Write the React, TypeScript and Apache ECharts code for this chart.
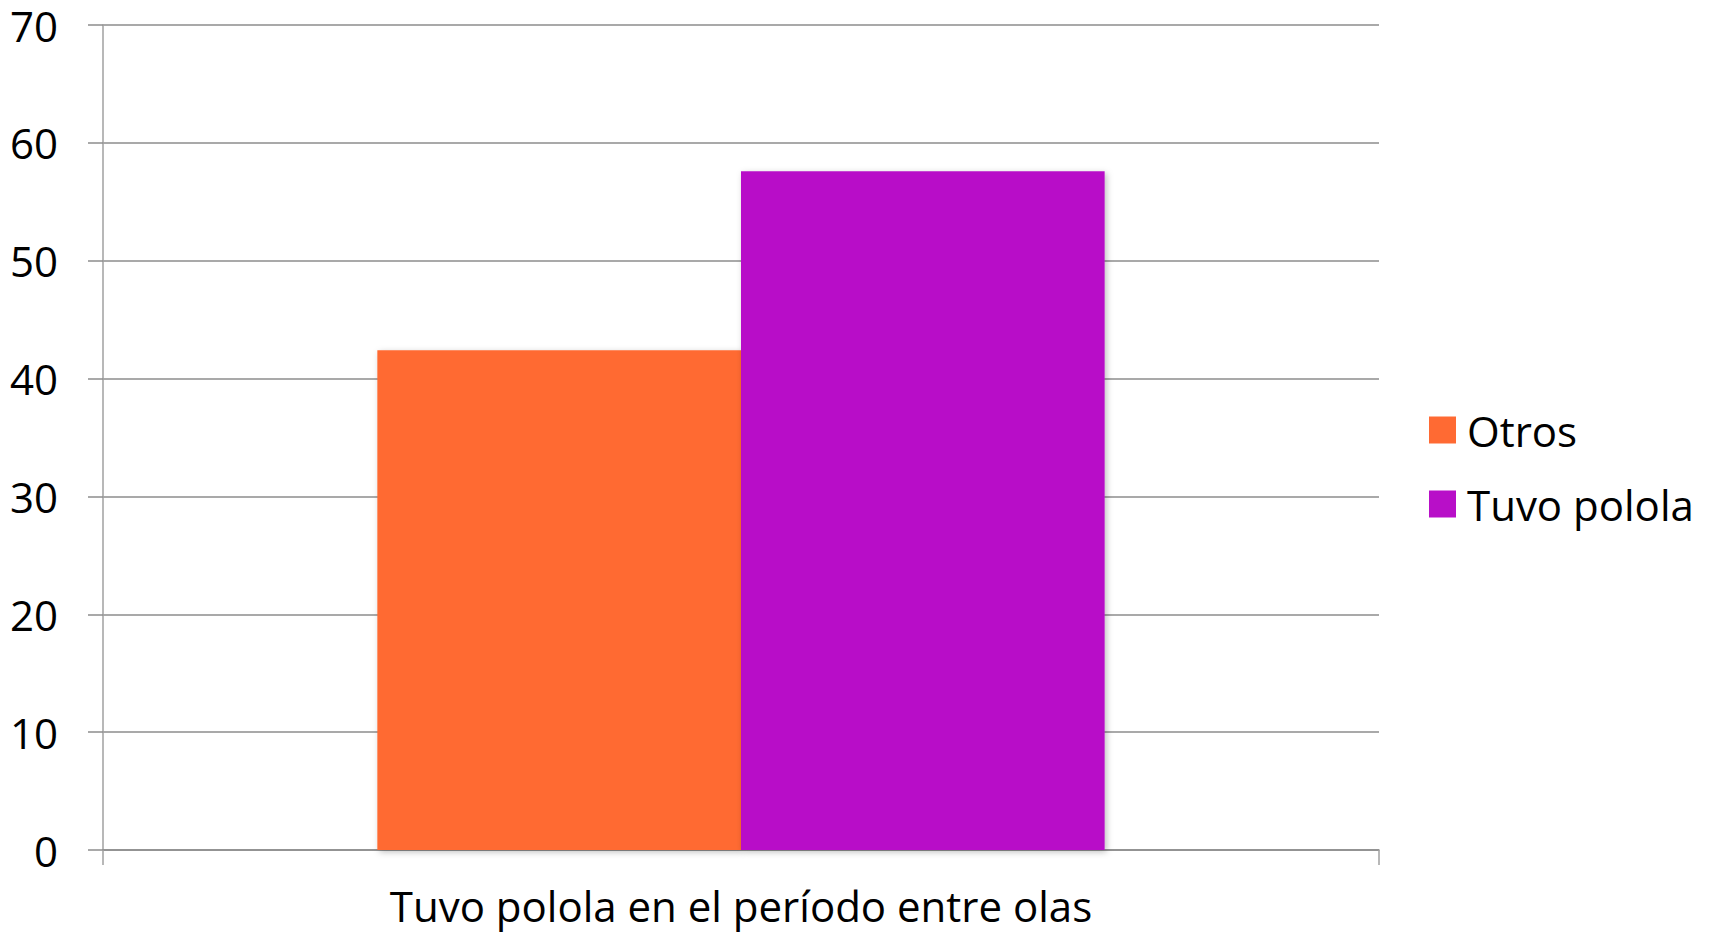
import React, { useEffect, useRef } from "react";
import * as echarts from "echarts";

const categories = ["Tuvo polola en el período entre olas"];
const seriesNames = ["Otros", "Tuvo polola"];
const otrosValues = [42.4];
const tuvoPololaValues = [57.6];
const yTicks = { min: 0, max: 70, interval: 10 };

const FONT = "'Open Sans', 'Noto Sans', sans-serif";

export default function App() {
  const ref = useRef<HTMLDivElement>(null);
  useEffect(() => {
    if (!ref.current) return;
    const chart = echarts.init(ref.current, null, { renderer: "svg" });
    chart.setOption({
      animation: false,
      backgroundColor: "#ffffff",
      textStyle: { fontFamily: FONT },
      grid: { left: 103, right: 334, top: 25, bottom: 84, containLabel: false },
      legend: {
        orient: "vertical",
        left: 1424,
        top: 404,
        itemWidth: 27,
        itemHeight: 27,
        itemGap: 32,
        icon: "rect",
        textStyle: { fontSize: 42, lineHeight: 42, color: "#000", fontFamily: FONT, padding: [0, 0, 0, 6] },
        data: seriesNames,
      },
      xAxis: {
        type: "category",
        data: categories,
        boundaryGap: true,
        axisLine: { show: true, lineStyle: { color: "#8c8c8c", width: 1.5 } },
        axisTick: { show: true, length: 15, lineStyle: { color: "#a0a0a0", width: 1.5 } },
        axisLabel: { fontSize: 42, lineHeight: 42, color: "#000", margin: 34, fontFamily: FONT },
      },
      yAxis: {
        type: "value",
        min: yTicks.min,
        max: yTicks.max,
        interval: yTicks.interval,
        axisLine: { show: true, lineStyle: { color: "#a0a0a0", width: 1.5 } },
        axisTick: { show: true, length: 15, lineStyle: { color: "#8c8c8c", width: 1.5 } },
        axisLabel: { fontSize: 42, lineHeight: 30, color: "#000", margin: 45, fontFamily: FONT },
        splitLine: { show: true, lineStyle: { color: "#8c8c8c", width: 1.5 } },
      },
      series: [
        {
          name: seriesNames[0],
          type: "bar",
          data: otrosValues,
          barGap: "0%",
          barCategoryGap: "43%",
          itemStyle: {
            color: "#FF6A33",
            shadowBlur: 6,
            shadowOffsetX: 2,
            shadowOffsetY: 2,
            shadowColor: "rgba(0,0,0,0.25)",
          },
        },
        {
          name: seriesNames[1],
          type: "bar",
          data: tuvoPololaValues,
          barGap: "0%",
          barCategoryGap: "43%",
          itemStyle: {
            color: "#B80FC8",
            shadowBlur: 6,
            shadowOffsetX: 2,
            shadowOffsetY: 2,
            shadowColor: "rgba(0,0,0,0.25)",
          },
        },
      ],
    });
    return () => chart.dispose();
  }, []);
  return (
    <div
      ref={ref}
      style={{ position: "fixed", left: 0, top: 0, width: 1713, height: 934 }}
    />
  );
}
